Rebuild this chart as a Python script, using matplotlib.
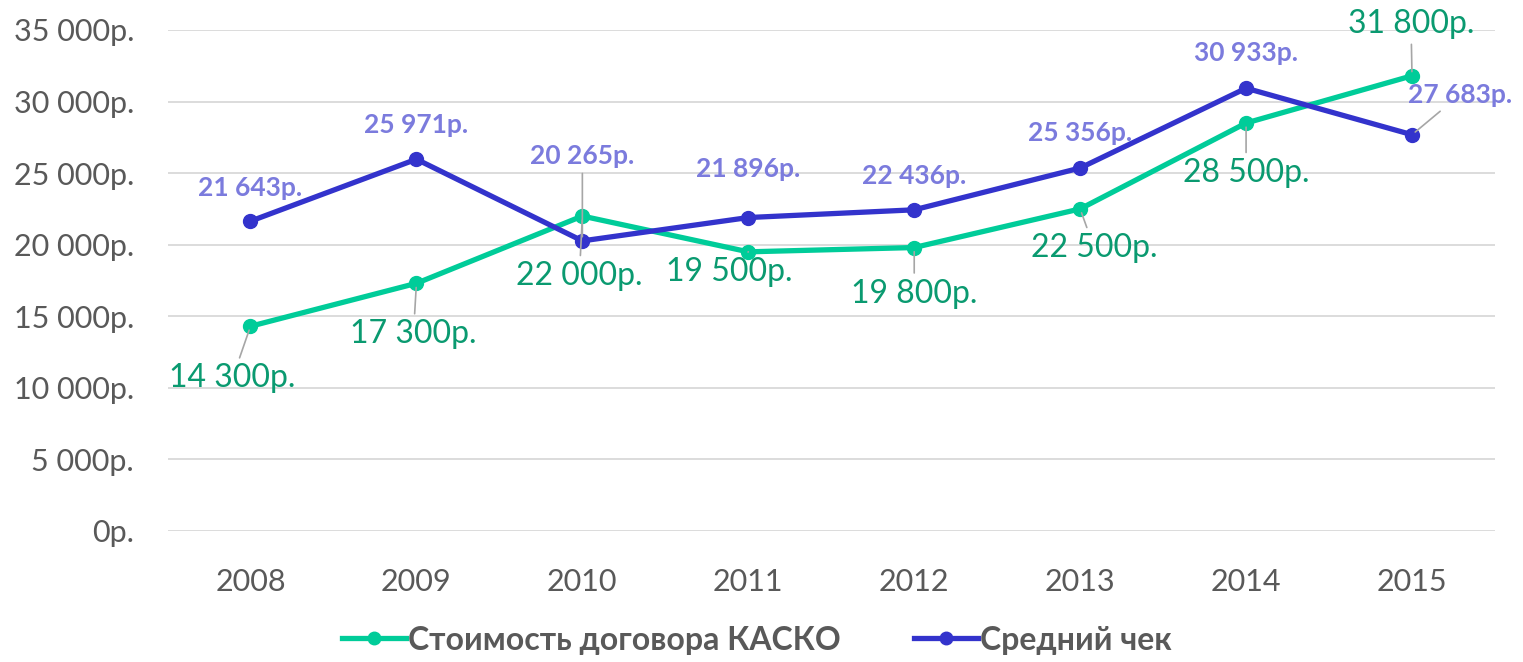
import matplotlib
matplotlib.use('Agg')
import numpy as np
import matplotlib.pyplot as plt
from matplotlib.ticker import FuncFormatter
from matplotlib.lines import Line2D

plt.rcParams['font.family'] = ['Lato', 'Open Sans', 'DejaVu Sans']

years = ['2008', '2009', '2010', '2011', '2012', '2013', '2014', '2015']
kasko = [14300, 17300, 22000, 19500, 19800, 22500, 28500, 31800]
check = [21643, 25971, 20265, 21896, 22436, 25356, 30933, 27683]

# label offsets in pixels (dx, dy) and whether a leader line is drawn
kasko_off = [(-18, -52), (-3, -51), (-3, -60), (-19, -20), (0, -46), (14, -39), (0, -50), (-1, 52)]
kasko_lead = [True, True, True, True, True, True, True, True]
check_off = [(0, 33), (0, 34), (0, 85), (0, 49), (0, 34), (0, 35), (0, 35), (48, 40)]
check_lead = [False, False, True, False, False, False, False, True]

green = '#00cc99'
green_txt = '#0a9a70'
blue = '#3333cc'
blue_txt = '#7b7bdd'
grey = '#595959'

def rub(v):
    return '{:,.0f}р.'.format(v).replace(',', ' ')

fig = plt.figure(figsize=(15.23, 6.62), dpi=100)
ax = fig.add_axes([0.110, 0.198, 0.8716, 0.7567])
x = np.arange(len(years))

ax.plot(x, kasko, color=green, lw=3.8, marker='o', ms=10, solid_capstyle='round', zorder=3)
ax.plot(x, check, color=blue, lw=3.8, marker='o', ms=10, solid_capstyle='round', zorder=4)

for i in range(len(years)):
    dx, dy = kasko_off[i]
    ap = dict(arrowstyle='-', color='#a6a6a6', lw=1.2, shrinkA=2, shrinkB=3) if kasko_lead[i] else None
    ax.annotate(rub(kasko[i]), (x[i], kasko[i]), xytext=(dx, dy), textcoords='offset pixels',
                ha='center', va='center', fontsize=23, color=green_txt, arrowprops=ap, zorder=5)
    dx, dy = check_off[i]
    ap = dict(arrowstyle='-', color='#a6a6a6', lw=1.2, shrinkA=2, shrinkB=3) if check_lead[i] else None
    ax.annotate(rub(check[i]), (x[i], check[i]), xytext=(dx, dy), textcoords='offset pixels',
                ha='center', va='center', fontsize=19, fontweight='bold', color=blue_txt,
                arrowprops=ap, zorder=5)

ax.set_xlim(-0.5, 7.5)
ax.set_ylim(0, 35000)
ax.set_yticks(np.arange(0, 35001, 5000))
ax.yaxis.set_major_formatter(FuncFormatter(lambda v, p: rub(v)))
ax.set_xticks(x)
ax.set_xticklabels(years)
ax.tick_params(length=0, labelsize=22, colors=grey)
ax.tick_params(axis='y', pad=24)
ax.tick_params(axis='x', pad=27)
ax.grid(axis='y', color='#d9d9d9', lw=1.3)
ax.set_axisbelow(True)
for s in ax.spines.values():
    s.set_visible(False)

handles = [Line2D([], [], color=green, lw=3.8, marker='o', ms=9),
           Line2D([], [], color=blue, lw=3.8, marker='o', ms=9)]
fig.legend(handles, ['Стоимость договора КАСКО', 'Средний чек'], loc='center',
           bbox_to_anchor=(0.497, 0.033), ncol=2, frameon=False, handlelength=2.0,
           handletextpad=0.05, columnspacing=2.3, prop=dict(size=23, weight='bold'),
           labelcolor=grey)

fig.savefig('out.png', dpi=100)
